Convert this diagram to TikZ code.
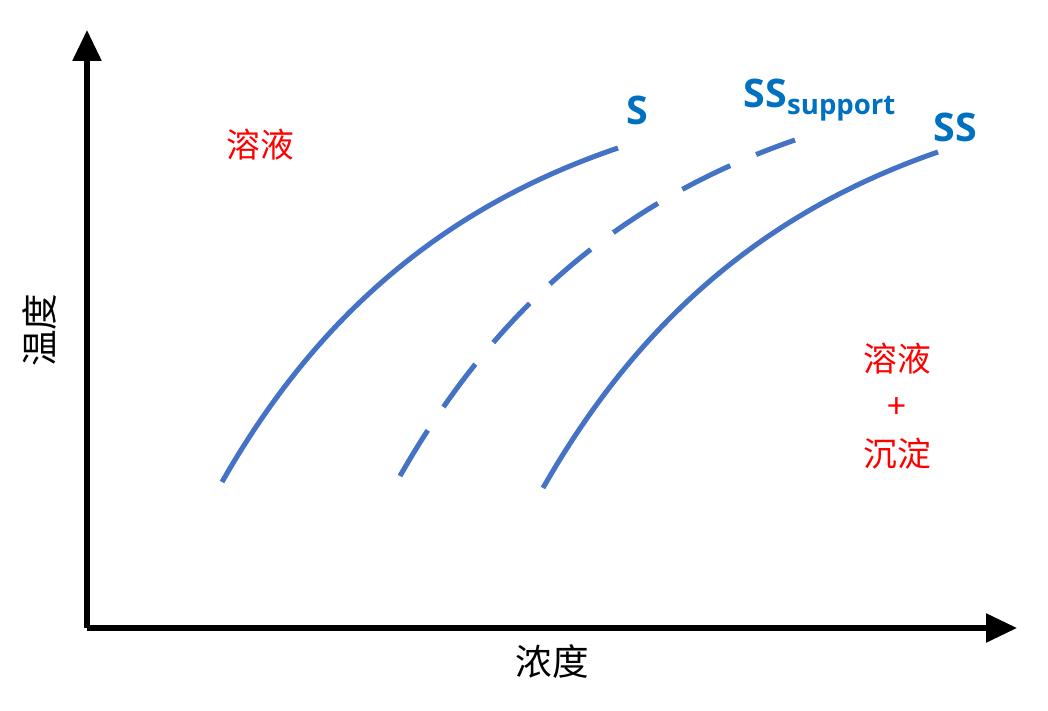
\documentclass[tikz,border=0pt]{standalone}
\usepackage{fontspec}
\setmainfont{Open Sans}
\newfontfamily\cjk{Noto Sans CJK SC}
\usetikzlibrary{arrows.meta}
\definecolor{curveblue}{RGB}{68,114,196}
\definecolor{labelblue}{RGB}{0,112,192}
\tikzset{
  axis/.style={line width=3.6pt, -{Triangle[length=22pt,width=20pt]}},
  curve/.style={line width=3.6pt, curveblue},
  curvelabel/.style={text=labelblue, font=\fontsize{28}{30}\selectfont\bfseries},
  region/.style={text=red, font=\cjk\fontsize{24}{34}\selectfont, align=center},
  axislabel/.style={font=\cjk\fontsize{26}{30}\selectfont}
}
\begin{document}
\begin{tikzpicture}[x=0.025cm, y=-0.025cm]
  \useasboundingbox (0,0) rectangle (1048,711);

  \coordinate (origin) at (87,628);
  \coordinate (ytip) at (87,30);
  \coordinate (xtip) at (1017,628);
  \draw[axis] (origin) -- (ytip);
  \draw[axis] (origin) -- (xtip);

  \node[axislabel, rotate=90] (temp) at (40,330) {温度};
  \node[axislabel] (conc) at (552,662) {浓度};

  % curves
  \coordinate (sstart) at (222,482);
  \coordinate (send) at (618,148);
  \draw[curve] (sstart) .. controls (320,310) and (450,205) .. (send);
  \coordinate (supstart) at (400,476);
  \coordinate (supend) at (795,140);
  \draw[curve, dash pattern=on 38pt off 20pt] (supstart) .. controls (498,304) and (627,198) .. (supend);
  \coordinate (ssstart) at (543,488);
  \coordinate (ssend) at (938,152);
  \draw[curve] (ssstart) .. controls (641,316) and (770,210) .. (ssend);

  \node[curvelabel] (slabel) at (637,110) {S};
  \node[curvelabel] (suplabel) at (820,100) {SS\textsubscript{support}};
  \node[curvelabel] (sslabel) at (955,127) {SS};

  \node[region] (liquid) at (260,145) {溶液};
  \node[region] (mixed) at (897,406) {溶液\\+\\沉淀};
\end{tikzpicture}
\end{document}
